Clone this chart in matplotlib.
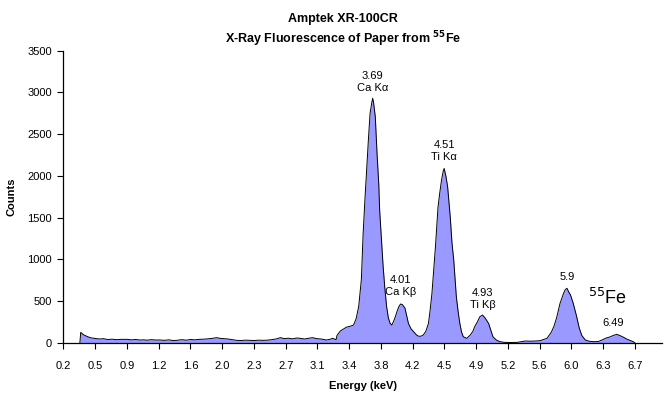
import matplotlib
matplotlib.use("Agg")
import matplotlib.pyplot as plt
import numpy as np

plt.rcParams['font.family'] = ['Liberation Sans', 'DejaVu Sans']

# spectrum (keV, counts)
energy = [0.33, 0.34, 0.37, 0.41, 0.45, 0.50, 0.56, 0.60, 0.65, 0.70,
          0.75, 0.80, 0.87, 0.92, 0.97, 1.02, 1.06, 1.10, 1.15, 1.20,
          1.25, 1.30, 1.35, 1.40, 1.44, 1.50, 1.55, 1.60, 1.65, 1.70,
          1.75, 1.80, 1.85, 1.90, 1.94, 1.98, 2.03, 2.08, 2.13, 2.18,
          2.23, 2.28, 2.33, 2.38, 2.43, 2.48, 2.53, 2.58, 2.63, 2.68,
          2.72, 2.77, 2.82, 2.86, 2.91, 2.96, 3.00, 3.05, 3.10, 3.16,
          3.20, 3.23, 3.27, 3.28, 3.32, 3.36, 3.39, 3.43, 3.47, 3.50,
          3.53, 3.56, 3.58, 3.60, 3.62, 3.64, 3.66, 3.68, 3.69, 3.70,
          3.72, 3.74, 3.76, 3.77, 3.79, 3.81, 3.83, 3.85, 3.87, 3.89,
          3.91, 3.93, 3.95, 3.97, 3.99, 4.01, 4.03, 4.06, 4.08, 4.10,
          4.13, 4.16, 4.19, 4.21, 4.24, 4.27, 4.30, 4.33, 4.35, 4.37,
          4.39, 4.41, 4.44, 4.46, 4.48, 4.50, 4.51, 4.53, 4.55, 4.58,
          4.60, 4.62, 4.64, 4.65, 4.67, 4.69, 4.71, 4.73, 4.77, 4.81,
          4.84, 4.86, 4.89, 4.92, 4.95, 4.98, 5.02, 5.05, 5.07, 5.11,
          5.15, 5.20, 5.27, 5.35, 5.44, 5.50, 5.56, 5.61, 5.66, 5.69,
          5.74, 5.77, 5.80, 5.84, 5.88, 5.90, 5.92, 5.94, 5.96, 5.99,
          6.03, 6.06, 6.09, 6.13, 6.18, 6.23, 6.28, 6.32, 6.37, 6.41,
          6.45, 6.49, 6.53, 6.57, 6.61, 6.65, 6.68, 6.70]
counts = [0, 128, 100, 80, 64, 55, 48, 52, 42, 46,
          40, 44, 44, 38, 42, 36, 38, 34, 40, 36,
          36, 32, 38, 30, 32, 40, 34, 42, 38, 44,
          46, 50, 56, 64, 56, 52, 48, 40, 32, 30,
          34, 32, 30, 34, 32, 34, 40, 48, 64, 52,
          58, 50, 60, 56, 48, 58, 64, 52, 48, 36,
          44, 56, 40, 90, 145, 170, 190, 200, 215, 290,
          440, 760, 1300, 1700, 2070, 2420, 2750, 2880, 2930, 2880,
          2710, 2270, 1900, 1590, 1250, 915, 650, 435, 300, 235,
          215, 260, 315, 380, 435, 467, 460, 420, 330, 235,
          170, 135, 100, 84, 80, 96, 140, 235, 400, 595,
          880, 1150, 1630, 1800, 1950, 2060, 2090, 2000, 1870, 1510,
          1200, 995, 700, 555, 380, 235, 130, 75, 56, 96,
          140, 195, 250, 315, 335, 300, 235, 140, 75, 35,
          16, 8, 6, 8, 24, 22, 24, 28, 45, 56,
          130, 200, 300, 475, 595, 640, 655, 610, 575, 480,
          320, 180, 90, 36, 20, 16, 18, 36, 60, 72,
          90, 104, 88, 68, 45, 28, 16, 0]

tick_labels = ['0.2', '0.5', '0.9', '1.2', '1.6', '2.0', '2.3', '2.7', '3.1', '3.4',
               '3.8', '4.2', '4.5', '4.9', '5.2', '5.6', '6.0', '6.3', '6.7']

peak_labels = ['3.69\nCa K\u03b1', '4.01\nCa K\u03b2', '4.51\nTi K\u03b1',
               '4.93\nTi K\u03b2', '5.9', '6.49']
peak_x = [3.69, 4.01, 4.51, 4.95, 5.92, 6.45]
peak_y = [2990, 545, 2165, 390, 735, 185]

fig = plt.figure(figsize=(6.65, 3.96), dpi=100)
ax = fig.add_axes([0.0952, 0.1338, 0.9003, 0.7382])

ax.fill_between(energy, counts, color='#9999ff', linewidth=0)
ax.plot(energy, counts, color='black', linewidth=0.7)

ax.set_xlim(0.14, 7.01)
ax.set_ylim(0, 3500)
ax.set_yticks(np.arange(0, 3501, 500))
ax.set_xticks(np.linspace(0.14, 6.70, len(tick_labels)))
ax.set_xticklabels(tick_labels)
ax.tick_params(labelsize=8, length=4, width=0.8, direction='out', pad=4)
ax.tick_params(axis='x', pad=9)

for s in ['top', 'right']:
    ax.spines[s].set_visible(False)
for s in ['left', 'bottom']:
    ax.spines[s].set_linewidth(0.9)

for lab, x, y in zip(peak_labels, peak_x, peak_y):
    ax.text(x, y, lab, ha='center', va='bottom', fontsize=8, linespacing=1.25)

ax.text(6.16, 420, r'$^{55}$Fe', fontsize=13, ha='left', va='bottom')

ax.set_xlabel('Energy (keV)', fontsize=8, fontweight='bold', labelpad=7)
ax.set_ylabel('Counts', fontsize=8, fontweight='bold', labelpad=8)

fig.text(0.516, 0.952, 'Amptek XR-100CR', ha='center', va='center',
         fontsize=9, fontweight='bold')
fig.text(0.516, 0.901, r'X-Ray Fluorescence of Paper from $^{\mathbf{55}}$Fe',
         ha='center', va='center', fontsize=9, fontweight='bold')

fig.savefig('out.png', dpi=100)
